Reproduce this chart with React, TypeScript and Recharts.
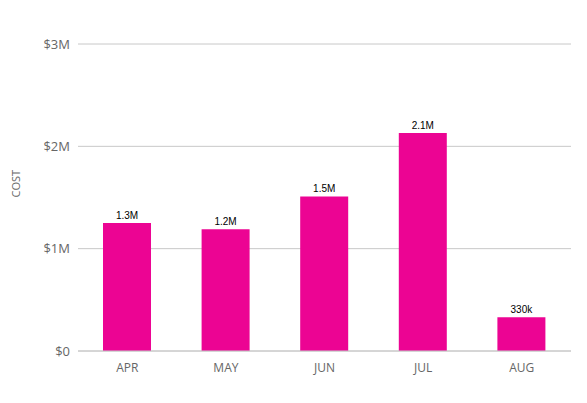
import React from "react";
import { BarChart, Bar, XAxis, YAxis, CartesianGrid, LabelList } from "recharts";

const months = ["APR", "MAY", "JUN", "JUL", "AUG"];
const costs = [1250000, 1190000, 1510000, 2130000, 330000];
const labels = ["1.3M", "1.2M", "1.5M", "2.1M", "330k"];
const yTicks = [0, 1000000, 2000000, 3000000];
const yTickLabels = ["$0", "$1M", "$2M", "$3M"];

const data = months.map((m, i) => ({ month: m, cost: costs[i], label: labels[i] }));

export default function App() {
  return (
    <div style={{ position: "absolute", left: 0, top: 0, width: 587, height: 403, background: "#fff" }}>
      <BarChart width={587} height={403} data={data} margin={{ top: 44, right: 16, bottom: 22, left: 0 }} barSize={48}>
        <CartesianGrid vertical={false} stroke="#c8c8c8" />
        <XAxis
          dataKey="month"
          stroke="#c8c8c8"
          tickLine={false}
          tick={{ fill: "#666", fontSize: 12, fontFamily: "Open Sans" }}
          tickMargin={6}
        />
        <YAxis
          domain={[0, 3000000]}
          ticks={yTicks}
          width={78}
          axisLine={false}
          tickLine={false}
          tickFormatter={(v: number) => yTickLabels[yTicks.indexOf(v)]}
          tick={{ fill: "#666", fontSize: 13, fontFamily: "Open Sans" }}
          label={{ value: "COST", angle: -90, position: "insideLeft", offset: 16, fill: "#666", fontSize: 11, fontFamily: "Open Sans" }}
        />
        <Bar dataKey="cost" fill="#ec0493" isAnimationActive={false}>
          <LabelList dataKey="label" position="top" offset={4} fill="#000" fontSize={10} fontFamily="Liberation Sans" />
        </Bar>
      </BarChart>
    </div>
  );
}
